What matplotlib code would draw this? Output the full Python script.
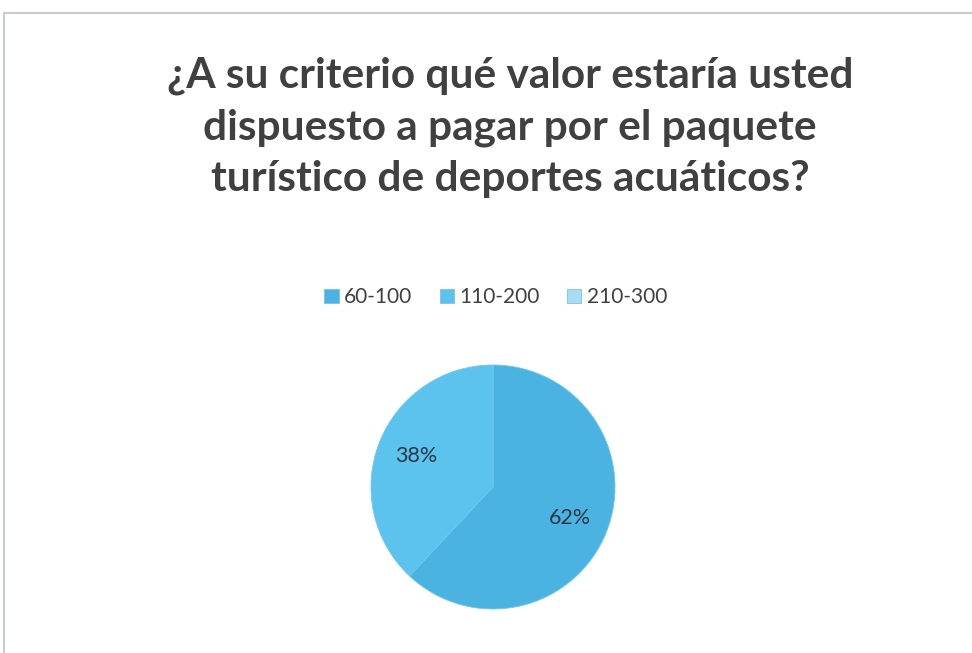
import matplotlib.pyplot as plt
from matplotlib.patches import Rectangle

plt.rcParams['font.family'] = ['Lato', 'DejaVu Sans']

# survey answers: price range vs share of respondents
rangos = ['60-100', '110-200', '210-300']
porcentajes = [62, 38, 0]
colores = ['#4AB3E2', '#5CC3EE', '#A9DCF3']

titulo = ('¿A su criterio qué valor estaría usted\n'
          'dispuesto a pagar por el paquete\n'
          'turístico de deportes acuáticos?')

fig = plt.figure(figsize=(9.72, 6.53), dpi=100)
fig.patch.set_facecolor('white')

# thin frame around the chart area
fig.patches.append(Rectangle((4 / 972, -0.01), 1.0, 1 - 13 / 653 + 0.01,
                             transform=fig.transFigure, fill=False,
                             edgecolor='#C8CDD2', linewidth=1.5))

fig.text(0.525, 0.805, titulo, ha='center', va='center', fontsize=30.5,
         fontweight='bold', color='#404040', linespacing=1.43)

ax = fig.add_axes([(493 - 122) / 972, (653 - 609) / 653, 244 / 972, 244 / 653])


def etiqueta(p):
    return '' if p < 0.5 else '%d%%' % round(p)


wedges, textos, autotextos = ax.pie(
    porcentajes, colors=colores, startangle=90, counterclock=False,
    autopct=etiqueta, pctdistance=0.68,
    wedgeprops={'linewidth': 0.6, 'edgecolor': '#6FC6EC'},
    textprops={'fontsize': 15.5, 'color': '#2A3744'})
ax.set_xlim(-1, 1)
ax.set_ylim(-1, 1)
ax.set_aspect('equal')

leg = fig.legend(wedges, rangos, loc='center', bbox_to_anchor=(0.51, 0.545),
                 ncol=3, frameon=False, fontsize=15, handlelength=0.7,
                 handleheight=0.7, handletextpad=0.25, columnspacing=1.3)
for t in leg.get_texts():
    t.set_color('#404040')

fig.savefig('out.png', dpi=100)
